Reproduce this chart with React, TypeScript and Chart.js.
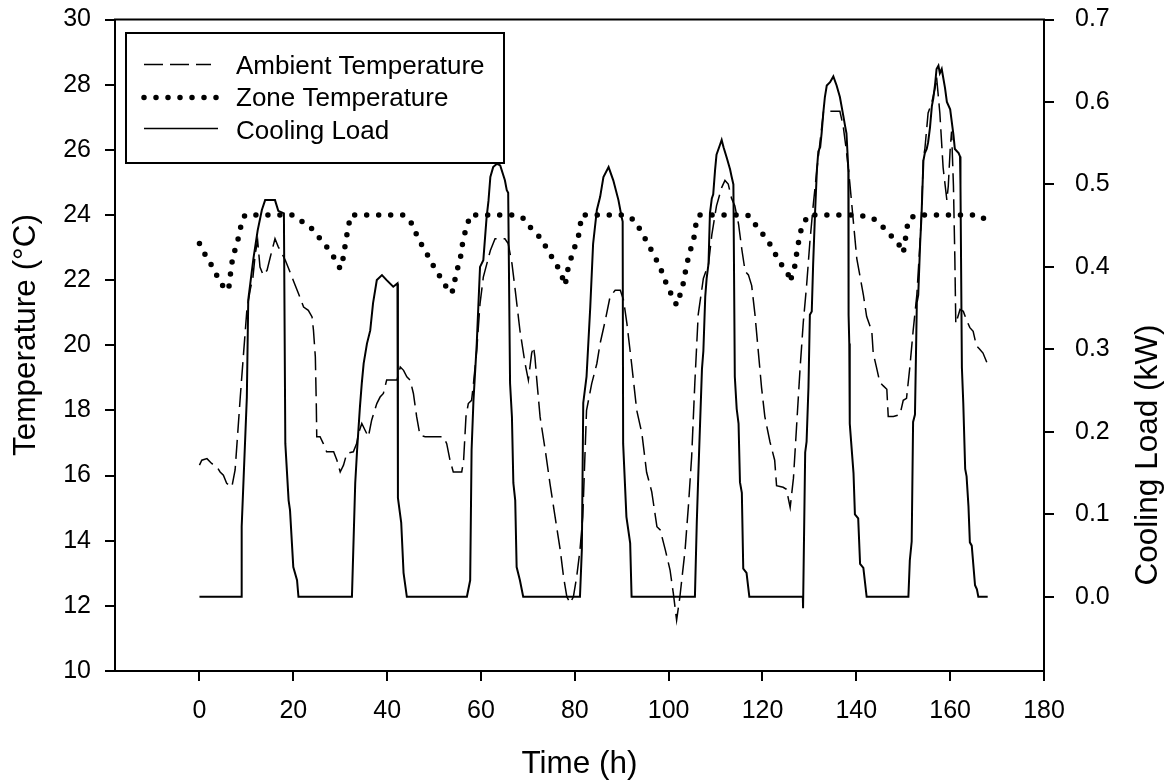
import React, { useEffect, useRef } from "react";
import { Chart, registerables } from "chart.js";

Chart.register(...registerables);

// ---------- tick labels ----------
const xTicks = [0, 20, 40, 60, 80, 100, 120, 140, 160, 180];
const tempTicks = [10, 12, 14, 16, 18, 20, 22, 24, 26, 28, 30];
const loadTicks = [0, 0.1, 0.2, 0.3, 0.4, 0.5, 0.6, 0.7];

// ---------- series names ----------
const seriesNames = ["Ambient Temperature", "Zone Temperature", "Cooling Load"];

// ---------- Ambient temperature (°C) ----------
const ambientTime = [
  0, 0.5, 1.6, 2.6, 3.7, 4.4, 5.1, 5.8, 6.9, 7.6, 8.0, 8.7, 9.4, 10.1, 10.8, 11.4, 11.9, 12.4, 12.9, 13.6,
  14.4, 15.1, 16.1, 16.8, 17.6, 18.3, 19.3, 20.0, 21.1, 22.2, 23.2, 24.0, 24.3, 24.7, 24.9, 25.0, 25.7, 26.4,
  27.1, 28.6, 29.3, 30.0, 30.7, 31.4, 32.8, 33.5, 33.9, 34.6, 35.3, 36.0, 36.7, 37.8, 38.5, 39.2, 39.9, 42.1,
  42.8, 43.5, 44.2, 44.9, 45.6, 46.3, 47.0, 48.1, 52.0, 52.7, 53.4, 54.1, 55.9, 56.3, 56.8, 57.3, 58.0, 58.4,
  59.1, 59.8, 60.5, 62.0, 63.0, 65.1, 65.8, 66.6, 67.3, 68.3, 69.4, 70.1, 70.8, 71.2, 71.5, 71.9, 72.6, 73.7,
  74.7, 75.8, 76.9, 77.6, 78.3, 79.0, 79.7, 80.4, 81.1, 81.7, 82.2, 82.5, 83.6, 84.7, 85.4, 86.5, 87.5, 88.6,
  89.7, 90.4, 91.1, 92.1, 93.2, 94.3, 95.3, 96.4, 97.5, 98.2, 99.3, 100.3, 101.0, 101.7, 102.4, 103.5, 104.2,
  104.9, 105.6, 106.3, 107.4, 108.5, 109.2, 110.2, 111.3, 112.0, 112.7, 113.4, 114.1, 114.9, 115.6, 116.3,
  117.0, 117.7, 118.4, 119.1, 119.8, 120.5, 121.6, 122.6, 123.0, 124.4, 125.1, 125.9, 126.6, 127.3, 128.0,
  128.7, 129.4, 130.1, 130.8, 131.6, 132.3, 133.0, 136.5, 137.2, 137.9, 138.6, 140.1, 141.5, 142.2, 143.3,
  143.6, 144.3, 145.0, 145.7, 146.5, 146.8, 147.9, 149.3, 150.0, 150.7, 151.4, 152.1, 152.9, 153.6, 153.9,
  154.3, 154.6, 155.3, 156.1, 156.8, 157.1, 157.8, 158.5, 159.3, 159.6, 160.0, 160.3, 160.7, 161.0, 161.2,
  162.1, 162.8, 163.5, 164.2, 164.9, 165.6, 166.3, 167.0, 167.8,
];
const ambientTemp = [
  16.32, 16.47, 16.52, 16.37, 16.27, 16.11, 16.01, 15.76, 15.65, 16.17, 16.98, 18.41, 19.75, 21.07, 21.69,
  22.09, 22.81, 23.22, 22.4, 22.15, 22.3, 22.71, 23.27, 23.02, 22.81, 22.61, 22.25, 21.99, 21.59, 21.17, 21.07,
  20.87, 20.46, 19.64, 18.22, 17.19, 17.19, 16.98, 16.73, 16.73, 16.47, 16.11, 16.32, 16.68, 16.73, 16.98,
  17.29, 17.6, 17.39, 17.19, 17.7, 18.21, 18.41, 18.52, 18.93, 18.93, 19.33, 19.23, 19.03, 18.93, 18.52, 17.8,
  17.24, 17.19, 17.19, 16.98, 16.47, 16.11, 16.11, 16.47, 17.8, 18.21, 18.31, 18.82, 19.85, 21.28, 22.09,
  22.91, 23.27, 23.27, 23.12, 22.51, 21.69, 20.46, 19.44, 18.93, 19.75, 19.95, 19.64, 18.93, 17.8, 16.78,
  15.76, 14.73, 13.71, 12.89, 12.28, 12.08, 12.28, 12.89, 13.71, 14.73, 16.78, 18.0, 18.82, 19.44, 20.06,
  20.77, 21.48, 21.69, 21.69, 21.38, 20.67, 19.44, 18.0, 17.29, 16.1, 15.5, 14.43, 14.33, 13.71, 13.1, 12.38,
  11.56, 12.28, 13.71, 15.04, 16.57, 18.9, 20.94, 22.05, 22.5, 23.39, 24.28, 24.84, 25.06, 24.95, 24.51,
  24.28, 23.72, 22.94, 22.27, 22.16, 21.83, 20.94, 19.82, 18.7, 17.81, 17.03, 16.47, 15.69, 15.64, 15.58,
  15.02, 15.92, 17.59, 19.26, 20.71, 21.83, 23.17, 24.28, 25.4, 26.29, 27.18, 27.18, 26.73, 25.95, 25.0,
  22.66, 21.55, 20.88, 20.43, 19.76, 19.32, 18.87, 18.76, 18.65, 17.81, 17.81, 17.87, 18.31, 18.37, 19.32,
  20.43, 21.55, 23.22, 24.11, 25.78, 26.01, 27.13, 27.46, 27.91, 28.24, 27.13, 25.45, 24.45, 24.89, 26.01,
  26.56, 24.89, 22.66, 20.66, 21.1, 21.04, 20.77, 20.54, 20.43, 19.98, 19.88, 19.76, 19.48,
];

// ---------- Zone temperature (°C) ----------
const zoneTime = [
  0, 1.0, 2.1, 3.0, 4.0, 5.1, 6.2, 6.5, 7.1, 8.0, 8.5, 9.0, 9.7, 19.7, 21.5, 22.9, 24.3, 25.7, 27.1, 28.6,
  30.0, 30.6, 31.0, 31.7, 32.3, 43.5, 45.3, 46.0, 47.0, 48.1, 49.2, 50.2, 51.3, 52.4, 53.4, 54.1, 54.5, 55.0,
  55.6, 55.9, 56.3, 57.0, 57.7, 67.3, 69.0, 70.1, 71.5, 73.0, 74.0, 75.1, 76.2, 77.2, 77.9, 78.3, 78.6, 79.4,
  80.1, 80.8, 81.5, 90.7, 92.8, 95.0, 97.1, 98.9, 99.6, 100.7, 101.7, 102.4, 103.1, 103.9, 104.6, 105.3, 106.0,
  106.5, 115.5, 117.0, 118.1, 119.5, 120.9, 122.0, 123.0, 124.4, 125.5, 125.9, 126.2, 126.9, 127.3, 128.0,
  128.7, 129.8, 140.1, 141.8, 143.6, 145.4, 146.5, 147.9, 149.0, 150.0, 150.4, 150.7, 151.3, 152.9, 166.0,
  167.2,
];
const zoneTemp = [
  23.12, 22.83, 22.59, 22.32, 22.07, 21.79, 21.69, 22.07, 22.71, 23.12, 23.43, 23.78, 24.0, 24.0, 23.83, 23.71,
  23.53, 23.27, 23.02, 22.71, 22.35, 22.66, 23.02, 23.63, 24.0, 24.0, 23.73, 23.48, 23.17, 22.91, 22.61, 22.35,
  22.1, 21.84, 21.59, 21.69, 22.05, 22.35, 22.66, 22.97, 23.32, 23.65, 24.0, 24.0, 23.9, 23.68, 23.48, 23.24,
  22.97, 22.71, 22.45, 22.15, 21.84, 22.1, 22.4, 22.76, 23.07, 23.37, 24.0, 24.0, 23.83, 23.27, 22.71, 22.15,
  21.84, 21.53, 21.23, 21.53, 21.89, 22.51, 22.91, 23.22, 23.89, 24.0, 24.0, 23.98, 23.78, 23.5, 23.28, 23.0,
  22.73, 22.39, 22.16, 21.94, 22.1, 22.44, 22.83, 23.44, 23.72, 24.0, 24.0, 23.96, 23.89, 23.67, 23.5, 23.28,
  23.11, 22.83, 23.17, 23.56, 23.89, 24.0, 24.0, 23.89,
];

// ---------- Cooling load (kW) ----------
const loadTime = [
  0, 8.9, 9.0, 10.1, 10.4, 11.5, 12.4, 13.3, 14.0, 16.1, 16.8, 18.0, 18.3, 19.0, 19.3, 20.0, 20.8, 21.1,
  32.5, 33.2, 33.6, 34.2, 34.6, 35.0, 35.7, 36.4, 37.0, 37.8, 38.9, 39.9, 41.3, 42.2, 42.3, 43.0, 43.5, 44.2,
  57.0, 57.7, 58.0, 58.4, 59.1, 59.8, 60.5, 61.2, 61.6, 62.0, 62.6, 63.4, 64.1, 65.1, 65.5, 65.8, 66.2, 66.6,
  66.9, 67.3, 67.6, 68.3, 69.0,
  81.1, 81.5, 81.8, 82.5, 83.3, 83.9, 84.7, 85.4, 86.1, 87.2, 88.2, 89.3, 90.0, 90.2, 90.3, 91.0, 91.8, 92.1,
  105.6, 106.0, 106.3, 107.1, 107.4, 107.8, 108.1, 108.5, 108.8, 109.2, 109.5, 109.9, 110.2, 111.0, 111.3,
  111.7, 112.4, 113.1, 113.4, 113.8, 114.1, 114.5, 114.9, 115.2, 115.6, 115.9, 116.6, 117.2,
  128.6, 128.65, 129.1, 129.4, 129.8, 130.1, 130.5, 130.8, 131.2, 131.6, 131.9, 132.3, 132.6, 133.0, 133.3,
  133.7, 134.4, 135.1, 135.8, 136.5, 137.2, 137.6, 137.9, 138.3, 138.35, 138.5, 138.6, 139.4, 139.7, 140.4,
  140.8, 141.5, 142.2,
  151.1, 151.4, 151.8, 152.1, 152.5, 152.9, 153.2, 153.6, 153.9, 154.3, 154.6, 155.0, 155.3, 155.7, 156.1,
  156.4, 156.8, 157.1, 157.5, 157.8, 158.2, 158.9, 159.3, 160.0, 160.7, 161.0, 161.8, 162.1, 162.2, 162.5,
  162.8, 163.2, 163.5, 163.9, 164.2, 164.6, 165.3, 165.7, 166.0, 168.0,
];
const loadValue = [
  0, 0, 0.085, 0.242, 0.36, 0.41, 0.444, 0.469, 0.481, 0.481, 0.468, 0.465, 0.186, 0.117, 0.105, 0.036, 0.02, 0,
  0, 0.138, 0.178, 0.23, 0.259, 0.283, 0.307, 0.323, 0.356, 0.384, 0.39, 0.384, 0.376, 0.38, 0.12, 0.09, 0.029, 0,
  0, 0.02, 0.178, 0.238, 0.307, 0.4, 0.408, 0.46, 0.48, 0.509, 0.521, 0.525, 0.523, 0.505, 0.493, 0.49, 0.259,
  0.218, 0.138, 0.117, 0.036, 0.02, 0,
  0, 0.057, 0.235, 0.267, 0.352, 0.428, 0.469, 0.485, 0.509, 0.521, 0.505, 0.481, 0.46, 0.455, 0.186, 0.097,
  0.065, 0,
  0, 0.091, 0.144, 0.276, 0.298, 0.364, 0.386, 0.404, 0.465, 0.483, 0.488, 0.518, 0.536, 0.549, 0.554, 0.545,
  0.532, 0.518, 0.51, 0.5, 0.267, 0.228, 0.21, 0.139, 0.126, 0.034, 0.029, 0,
  0, -0.014, 0.175, 0.188, 0.254, 0.342, 0.346, 0.404, 0.465, 0.518, 0.54, 0.545, 0.562, 0.589, 0.606, 0.62,
  0.624, 0.631, 0.62, 0.606, 0.584, 0.571, 0.562, 0.518, 0.342, 0.307, 0.21, 0.15, 0.1, 0.095, 0.04, 0.035, 0,
  0, 0.044, 0.067, 0.212, 0.221, 0.357, 0.366, 0.428, 0.463, 0.529, 0.538, 0.543, 0.551, 0.569, 0.595, 0.604,
  0.622, 0.64, 0.644, 0.635, 0.64, 0.617, 0.6, 0.591, 0.56, 0.543, 0.538, 0.534, 0.498, 0.278, 0.234, 0.155,
  0.146, 0.11, 0.066, 0.062, 0.014, 0.009, 0, 0,
];

const FONT = "'Liberation Sans', Arial, Helvetica, sans-serif";
const AMBIENT_DASH = [19, 7];
const ZONE_DASH = [0, 12];

const toPoints = (xs: number[], ys: number[]) => xs.map((x, i) => ({ x, y: ys[i] }));

const decorPlugin = {
  id: "decor",
  afterDraw(chart: any) {
    const { ctx, chartArea } = chart;
    ctx.save();
    ctx.strokeStyle = "#000";
    ctx.fillStyle = "#000";
    // top frame line
    ctx.lineWidth = 2;
    ctx.setLineDash([]);
    ctx.beginPath();
    ctx.moveTo(chartArea.left - 1, chartArea.top);
    ctx.lineTo(chartArea.right + 1, chartArea.top);
    ctx.stroke();

    // legend box (opaque)
    ctx.fillStyle = "#fff";
    ctx.fillRect(126, 33, 378, 130);
    ctx.fillStyle = "#000";
    ctx.lineWidth = 2;
    ctx.strokeRect(126, 33, 378, 130);

    // legend samples
    const sx0 = 144;
    ctx.lineWidth = 1.5;
    ctx.setLineDash(AMBIENT_DASH);
    ctx.beginPath();
    ctx.moveTo(sx0, 64.5);
    ctx.lineTo(211, 64.5);
    ctx.stroke();

    ctx.lineWidth = 5.5;
    ctx.lineCap = "round";
    ctx.setLineDash(ZONE_DASH);
    ctx.beginPath();
    ctx.moveTo(sx0, 97.5);
    ctx.lineTo(216.5, 97.5);
    ctx.stroke();

    ctx.lineCap = "butt";
    ctx.lineWidth = 1.5;
    ctx.setLineDash([]);
    ctx.beginPath();
    ctx.moveTo(sx0, 128.5);
    ctx.lineTo(218, 128.5);
    ctx.stroke();

    ctx.font = `26px ${FONT}`;
    ctx.textAlign = "left";
    ctx.textBaseline = "alphabetic";
    ctx.fillText(seriesNames[0], 236, 74);
    ctx.fillText(seriesNames[1], 236, 106);
    ctx.fillText(seriesNames[2], 236, 139);

    // axis titles
    ctx.font = `31.5px ${FONT}`;
    ctx.textAlign = "center";
    ctx.fillText("Time (h)", (chartArea.left + chartArea.right) / 2, 773);
    ctx.save();
    ctx.translate(35, 335);
    ctx.rotate(-Math.PI / 2);
    ctx.fillText("Temperature (°C)", 0, 0);
    ctx.restore();
    ctx.save();
    ctx.translate(1157, 455);
    ctx.rotate(-Math.PI / 2);
    ctx.fillText("Cooling Load (kW)", 0, 0);
    ctx.restore();
    ctx.restore();
  },
};

export default function App() {
  const canvasRef = useRef<HTMLCanvasElement | null>(null);

  useEffect(() => {
    if (!canvasRef.current) return;
    const tickFont = { family: FONT, size: 25 };
    const axisCommon = {
      grid: {
        display: true,
        drawOnChartArea: false,
        drawTicks: true,
        tickLength: 10,
        color: "#000",
        lineWidth: 2,
      },
      border: { display: true, color: "#000", width: 2 },
    };
    const fixVertical = (w: number) => (s: any) => {
      s.width = w;
      s.paddingTop = 0;
      s.paddingBottom = 0;
    };
    const chart = new Chart(canvasRef.current, {
      type: "line",
      data: {
        datasets: [
          {
            label: seriesNames[0],
            data: toPoints(ambientTime, ambientTemp),
            yAxisID: "y",
            borderColor: "#000",
            borderWidth: 1.5,
            borderDash: AMBIENT_DASH,
            pointRadius: 0,
            tension: 0,
            fill: false,
          },
          {
            label: seriesNames[1],
            data: toPoints(zoneTime, zoneTemp),
            yAxisID: "y",
            borderColor: "#000",
            borderWidth: 5.5,
            borderDash: ZONE_DASH,
            borderCapStyle: "round",
            borderJoinStyle: "round",
            pointRadius: 0,
            tension: 0,
            fill: false,
          },
          {
            label: seriesNames[2],
            data: toPoints(loadTime, loadValue),
            yAxisID: "y2",
            borderColor: "#000",
            borderWidth: 2,
            pointRadius: 0,
            tension: 0,
            fill: false,
          },
        ],
      },
      options: {
        responsive: false,
        animation: false,
        devicePixelRatio: 1,
        layout: { padding: { top: 19.5, left: 0, right: 0, bottom: 0 } },
        plugins: { legend: { display: false }, tooltip: { enabled: false } },
        scales: {
          x: {
            type: "linear",
            position: "bottom",
            min: -18,
            max: 180,
            afterBuildTicks: (s: any) => {
              s.ticks = xTicks.map((v) => ({ value: v }));
            },
            afterFit: (s: any) => {
              s.height = 109;
              s.paddingLeft = 0;
              s.paddingRight = 0;
            },
            ticks: { color: "#000", font: tickFont, padding: 15, maxRotation: 0, autoSkip: false },
            ...axisCommon,
          },
          y: {
            type: "linear",
            position: "left",
            min: 10,
            max: 30,
            afterBuildTicks: (s: any) => {
              s.ticks = tempTicks.map((v) => ({ value: v }));
            },
            afterFit: fixVertical(115),
            ticks: { color: "#000", font: tickFont, padding: 14, autoSkip: false },
            ...axisCommon,
          },
          y2: {
            type: "linear",
            position: "right",
            min: -0.09,
            max: 0.7,
            afterBuildTicks: (s: any) => {
              s.ticks = loadTicks.map((v) => ({ value: v }));
            },
            afterFit: fixVertical(122),
            ticks: {
              color: "#000",
              font: tickFont,
              padding: 21,
              autoSkip: false,
              callback: (v: any) => Number(v).toFixed(1),
            },
            ...axisCommon,
          },
        },
      },
      plugins: [decorPlugin],
    } as any);
    return () => chart.destroy();
  }, []);

  return (
    <div style={{ position: "absolute", left: 0, top: 0, width: 1166, height: 780, background: "#fff" }}>
      <canvas ref={canvasRef} width={1166} height={780} style={{ display: "block" }} />
    </div>
  );
}
